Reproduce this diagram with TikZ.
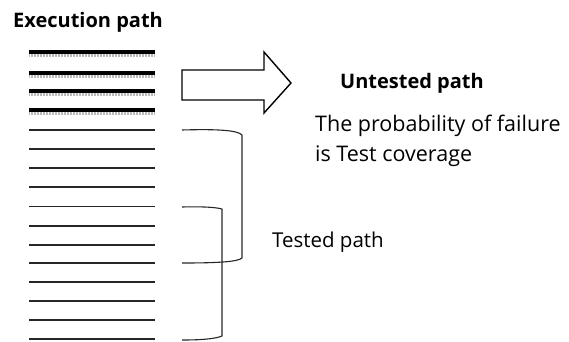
\documentclass[tikz,border=0pt]{standalone}
\usepackage{fontspec}
\setmainfont{Open Sans}
\begin{document}
\begin{tikzpicture}[x=1pt,y=-1pt,
  thickpath/.style={line width=3.2pt,black},
  shadowpath/.style={line width=2.2pt,gray!55,dash pattern=on 1pt off 0.5pt},
  thinpath/.style={line width=1.2pt,black!85},
  brace/.style={line width=1.1pt,black!85,line join=round},
  label/.style={anchor=west,inner sep=0pt,font=\fontsize{21.5}{24}\selectfont},
  blabel/.style={anchor=west,inner sep=0pt,font=\fontsize{20}{24}\selectfont\bfseries}]
\useasboundingbox (0,0) rectangle (569,341);
\node[blabel] (exec) at (13,22) {Execution path};
\foreach \y in {52,73,91,110}{
  \draw[shadowpath] (29,\y+3.5) -- (155,\y+3.5);
  \draw[thickpath] (29,\y) -- (155,\y);
}
\foreach \y in {130,149,168,187,206.5,226,245,263,282,301,320,339}{
  \draw[thinpath] (29,\y) -- (155,\y);
}
\draw[line width=1.4pt,black] (182,70) -- (264,70) -- (264,52) -- (291,83) -- (264,113) -- (264,100) -- (182,100) -- cycle;
\node[blabel] (untested) at (340,83) {Untested path};
\node[label] (prob) at (315,126) {The probability of failure};
\node[label] (cov) at (315,156) {is Test coverage};
\node[label,font=\fontsize{20.5}{24}\selectfont] (tested) at (272,242) {Tested path};
\coordinate (b1a) at (182,130);
\coordinate (b1b) at (182,263);
\coordinate (b2a) at (182,207);
\coordinate (b2b) at (182,340);
\draw[brace] (b1a) .. controls (215,129) and (238,130) .. (242,135) -- (242,258) .. controls (238,262) and (215,263) .. (b1b);
\draw[brace] (b2a) .. controls (200,206.5) and (215,207) .. (222,209) -- (222,336) .. controls (215,339) and (200,340) .. (b2b);
\end{tikzpicture}
\end{document}
